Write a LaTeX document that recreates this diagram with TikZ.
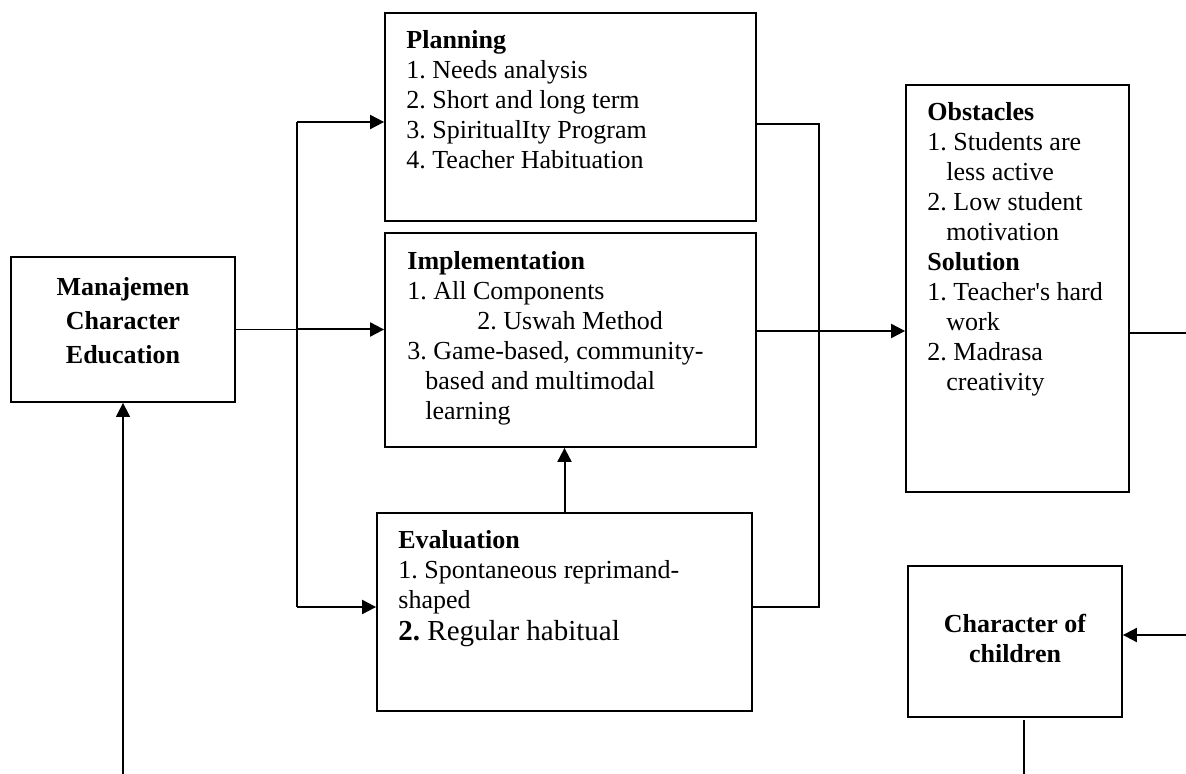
\documentclass[tikz,border=0pt]{standalone}
\usepackage{fontspec}
\setmainfont{Liberation Serif}
\frenchspacing
\usetikzlibrary{arrows.meta}
\tikzset{
    box/.style={draw, rectangle, line width=0.9pt, inner sep=0pt},
    txt/.style={anchor=north west, align=left, inner sep=0pt, font=\fontsize{13}{15}\selectfont},
    head/.style={anchor=north, align=center, inner sep=0pt, font=\fontsize{13}{17}\selectfont\bfseries},
    link/.style={line width=0.7pt},
    flow/.style={-{Triangle[length=7pt,width=7pt]}, line width=1pt},
    thinflow/.style={-{Triangle[length=7pt,width=7pt]}, line width=0.7pt}
}
\begin{document}
\begin{tikzpicture}[x=0.5pt,y=-0.5pt]
\useasboundingbox (0,0) rectangle (1186,774);

% Boxes
\node[box, minimum width=112pt, minimum height=72.5pt] (mgmt) at (123,329.5) {};
\node[box, minimum width=185.5pt, minimum height=104pt] (plan) at (570.5,117) {};
\node[box, minimum width=185.5pt, minimum height=107pt] (impl) at (570.5,340) {};
\node[box, minimum width=187.5pt, minimum height=99pt] (eval) at (564.5,612) {};
\node[box, minimum width=111.5pt, minimum height=203.5pt] (obst) at (1017.5,288.5) {};
\node[box, minimum width=107pt, minimum height=75.5pt] (charc) at (1015,641.5) {};

% Texts (top = first baseline - strut height)
\node[head] (mgmt txt) at (123,271.2) {\strut Manajemen\\Character\\Education};
\node[txt] (plan txt) at (406,27) {\strut\textbf{Planning}\\1. Needs analysis\\2. Short and long term\\3. SpiritualIty Program\\4. Teacher Habituation};
\node[txt] (impl txt) at (407,248) {\strut\textbf{Implementation}\\1. All Components\\\hspace*{35pt}2. Uswah Method\\3. Game-based, community-\\\hspace*{9pt}based and multimodal\\\hspace*{9pt}learning};
\node[txt] (eval txt) at (398,527) {\strut\textbf{Evaluation}\\1. Spontaneous reprimand-\\shaped\\[1pt]{\fontsize{14.5}{16}\selectfont\textbf{2.} Regular habitual}};
\node[txt] (obst txt) at (927,99) {\strut\textbf{Obstacles}\\1. Students are\\\hspace*{9.5pt}less active\\2. Low student\\\hspace*{9.5pt}motivation\\\textbf{Solution}\\1. Teacher\textquotesingle s hard\\\hspace*{9.5pt}work\\2. Madrasa\\\hspace*{9.5pt}creativity};
\node[head, font=\fontsize{13}{15}\selectfont\bfseries] (charc txt) at (1015,611) {\strut Character of\\children};

% Coordinates
\coordinate (fork top) at (297,122);
\coordinate (fork bot) at (297,607);
\coordinate (loop top) at (819,124);
\coordinate (loop bot) at (819,607);
\coordinate (impl out) at ([yshift=4.5pt]impl.east);
\coordinate (obst out) at (1130,333);
\coordinate (edge R1) at (1186,333);
\coordinate (edge R2) at (1186,635);
\coordinate (charc foot) at (1024,720);
\coordinate (edge B1) at (123,774);
\coordinate (edge B2) at (1024,774);

% Arrows
\draw[link] (fork top) -- (fork bot);
\draw[flow] (fork top) -- (fork top -| plan.west);
\draw[link] (mgmt.east) -- (mgmt.east -| fork top);
\draw[flow] (mgmt.east -| fork top) -- (mgmt.east -| impl.west);
\draw[flow] (fork bot) -- (fork bot -| eval.west);
\draw[flow] (eval.north) -- (eval.north |- impl.south);
\draw[link] (loop top -| plan.east) -- (loop top) -- (loop bot) -- (loop bot -| eval.east);
\draw[flow] (impl out) -- (impl out -| obst.west);
\draw[link] (obst out) -- (edge R1);
\draw[flow] (edge R2) -- (edge R2 -| charc.east);
\draw[link] (charc foot) -- (edge B2);
\draw[thinflow] (edge B1) -- (mgmt.south);
\end{tikzpicture}
\end{document}
